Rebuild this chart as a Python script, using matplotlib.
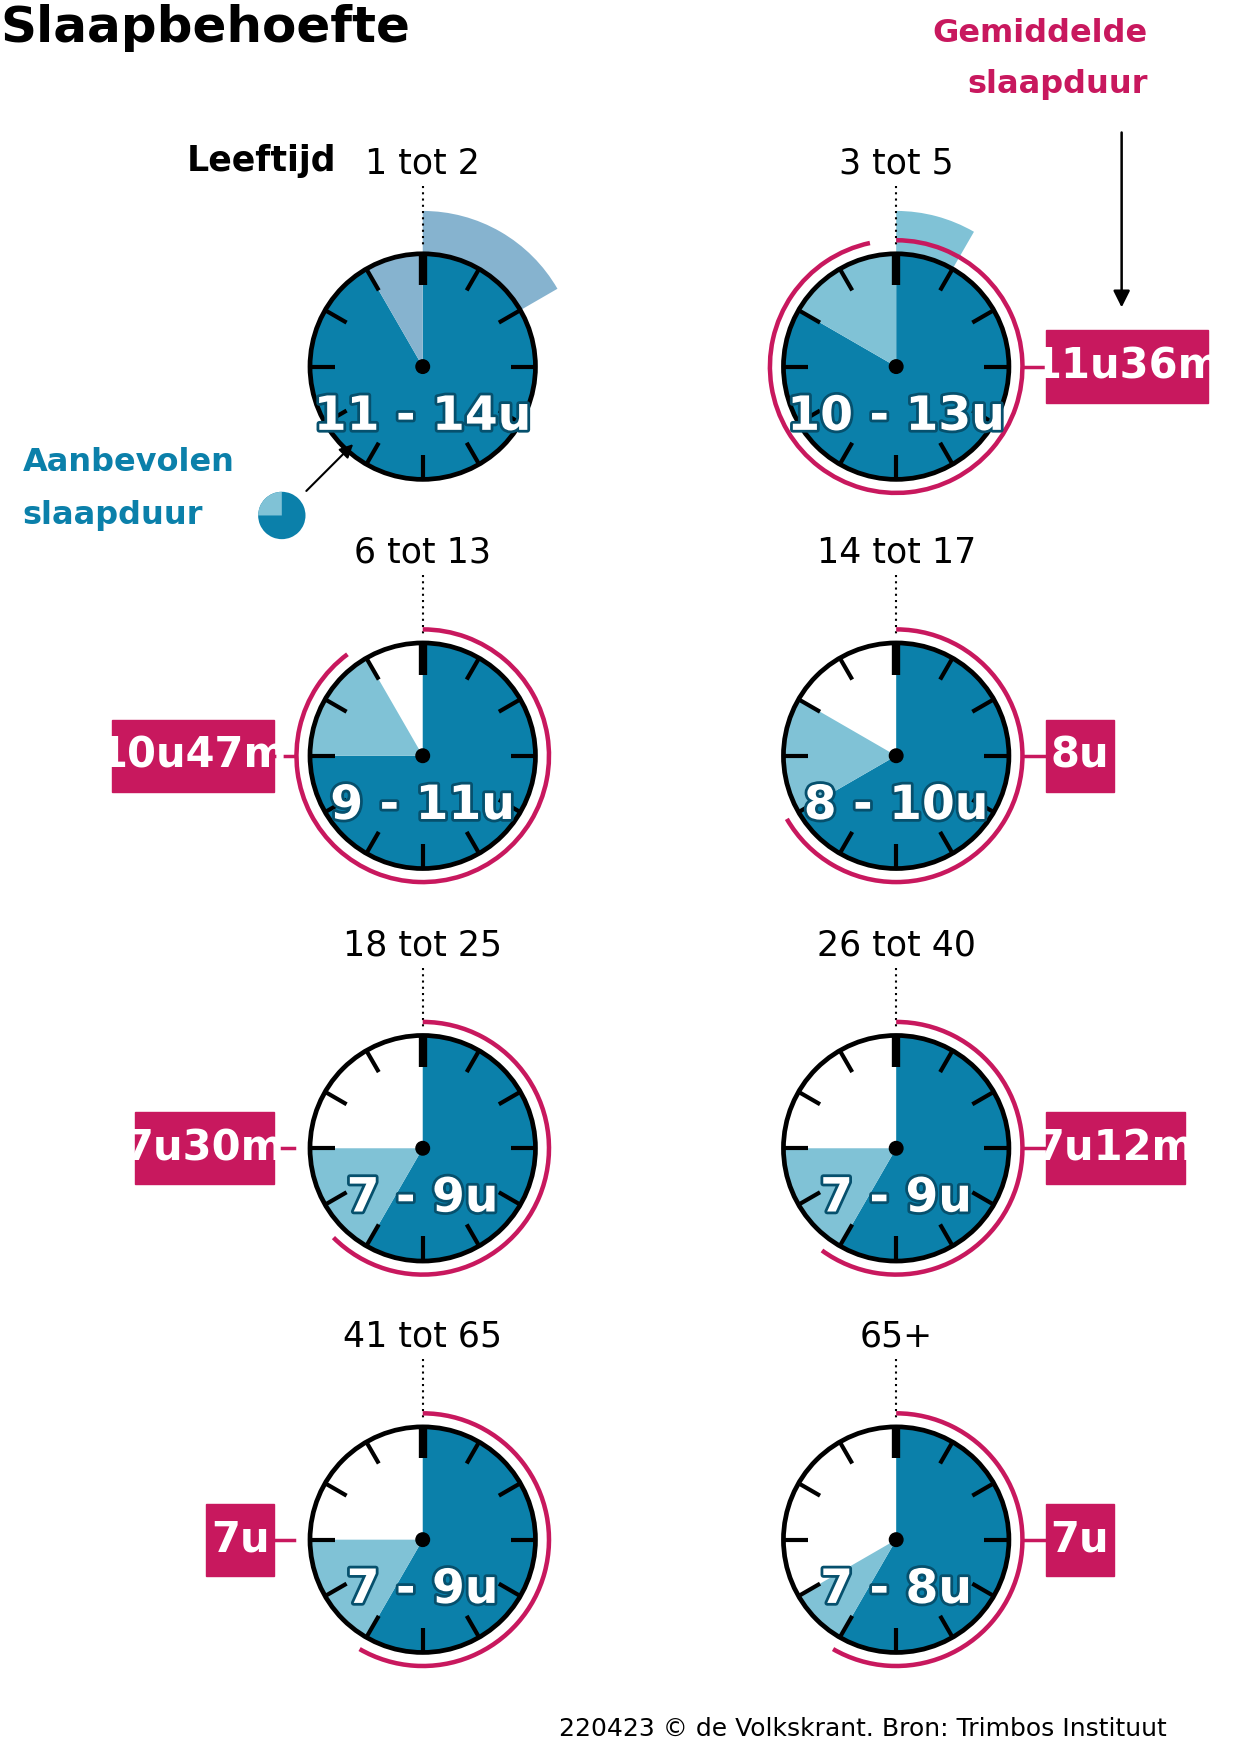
import matplotlib
matplotlib.use("Agg")
import matplotlib.pyplot as plt
from matplotlib.patches import Wedge, Circle, Rectangle
import matplotlib.patheffects as pe
import numpy as np

ages = ["1 tot 2", "3 tot 5", "6 tot 13", "14 tot 17", "18 tot 25", "26 tot 40", "41 tot 65", "65+"]
rec_min = [11, 10, 9, 8, 7, 7, 7, 7]
rec_max = [14, 13, 11, 10, 9, 9, 9, 8]
rec_labels = ["11 - 14u", "10 - 13u", "9 - 11u", "8 - 10u", "7 - 9u", "7 - 9u", "7 - 9u", "7 - 8u"]
avg_hours = [None, 11.6, 10.78, 8.0, 7.5, 7.2, 7.0, 7.0]
avg_labels = [None, "11u36m", "10u47m", "8u", "7u30m", "7u12m", "7u", "7u"]

W, H = 1100, 1563
DARK = "#0b80aa"
LIGHT = "#80c2d6"
LIGHT0 = "#86b3cf"
MAG = "#c8185e"
NARROW = ["Liberation Sans Narrow", "DejaVu Sans"]

fig = plt.figure(figsize=(12.4, 17.63), dpi=100)
ax = fig.add_axes([0, 0, 1, 1])
ax.set_xlim(0, W); ax.set_ylim(0, H); ax.axis("off")

def Y(y): return H - y
def ang(h): return 90 - 30 * h

centers = [(375, 325), (795, 325), (375, 670), (795, 670), (375, 1018), (795, 1018), (375, 1365), (795, 1365)]
R = 100
for i, (cx, cy) in enumerate(centers):
    c = (cx, Y(cy))
    lc = LIGHT0 if i == 0 else LIGHT
    mn, mx = rec_min[i], rec_max[i]
    if mx > 12:
        ax.add_patch(Wedge(c, 138, ang(mx - 12), 90, color=lc, lw=0, zorder=1))
    ax.add_patch(Circle(c, R, color="white", zorder=2))
    ax.add_patch(Wedge(c, R, ang(mn), 90, color=DARK, lw=0, zorder=3))
    ax.add_patch(Wedge(c, R, ang(min(mx, 12)), ang(mn), color=lc, lw=0, zorder=3))
    ax.add_patch(Circle(c, R, fill=False, ec="black", lw=3.4, zorder=5))
    for k in range(12):
        a = np.radians(ang(k))
        r0 = 72 if k == 0 else 78
        ax.plot([cx + r0 * np.cos(a), cx + R * np.cos(a)], [Y(cy) + r0 * np.sin(a), Y(cy) + R * np.sin(a)],
                color="black", lw=6 if k == 0 else 3, solid_capstyle="butt", zorder=4)
    ax.add_patch(Circle(c, 6, color="black", zorder=6))
    ax.plot([cx, cx], [Y(cy - 160), Y(cy - 105)], color="black", lw=1.5, ls=(0, (1, 2)), zorder=1)
    ax.text(cx, Y(cy - 180), ages[i], ha="center", va="center", fontsize=25, family="DejaVu Sans", zorder=7)
    t = ax.text(cx, Y(cy + 45), rec_labels[i], ha="center", va="center", fontsize=34, weight="bold",
                family=NARROW, color="white", zorder=7)
    t.set_path_effects([pe.withStroke(linewidth=4, foreground="#06506d")])
    if avg_hours[i] is not None:
        ax.add_patch(Wedge(c, 114, ang(avg_hours[i]), 90, width=4, color=MAG, lw=0, zorder=6))
        lab = avg_labels[i]
        bw = 18 + 21 * len(lab)
        bh = 64
        if cx > 600:
            bx0 = 928
            ax.plot([cx + 114, bx0], [Y(cy), Y(cy)], color=MAG, lw=2.5, zorder=6)
        else:
            bx0 = 243 - bw
            ax.plot([243, cx - 114], [Y(cy), Y(cy)], color=MAG, lw=2.5, zorder=6)
        ax.add_patch(Rectangle((bx0, Y(cy) - bh / 2), bw, bh, color=MAG, zorder=6))
        ax.text(bx0 + bw / 2, Y(cy), lab, ha="center", va="center", fontsize=30, weight="bold",
                family=NARROW, color="white", zorder=7)

ax.text(0, Y(25), "Slaapbehoefte", ha="left", va="center", fontsize=36, weight="bold")
ax.text(298, Y(143), "Leeftijd", ha="right", va="center", fontsize=25, weight="bold")
ax.text(1018, Y(30), "Gemiddelde", ha="right", va="center", fontsize=23, weight="bold", color=MAG)
ax.text(1018, Y(75), "slaapduur", ha="right", va="center", fontsize=23, weight="bold", color=MAG)
ax.annotate("", xy=(995, Y(275)), xytext=(995, Y(115)),
            arrowprops=dict(arrowstyle="-|>,head_width=0.5,head_length=1", color="black", lw=1.8))
ax.text(20, Y(410), "Aanbevolen", ha="left", va="center", fontsize=23, weight="bold", color=DARK)
ax.text(20, Y(457), "slaapduur", ha="left", va="center", fontsize=23, weight="bold", color=DARK)
ax.add_patch(Wedge((250, Y(457)), 21, -270, 90, color=DARK, lw=0, zorder=3))
ax.add_patch(Wedge((250, Y(457)), 21, 90, 180, color=LIGHT, lw=0, zorder=3))
ax.annotate("", xy=(315, Y(392)), xytext=(270, Y(437)),
            arrowprops=dict(arrowstyle="-|>,head_width=0.4,head_length=0.8", color="black", lw=1.5), zorder=8)
ax.text(1035, Y(1533), "220423 © de Volkskrant. Bron: Trimbos Instituut", ha="right", va="center", fontsize=18)

fig.savefig("out.png", dpi=100, facecolor="white")
